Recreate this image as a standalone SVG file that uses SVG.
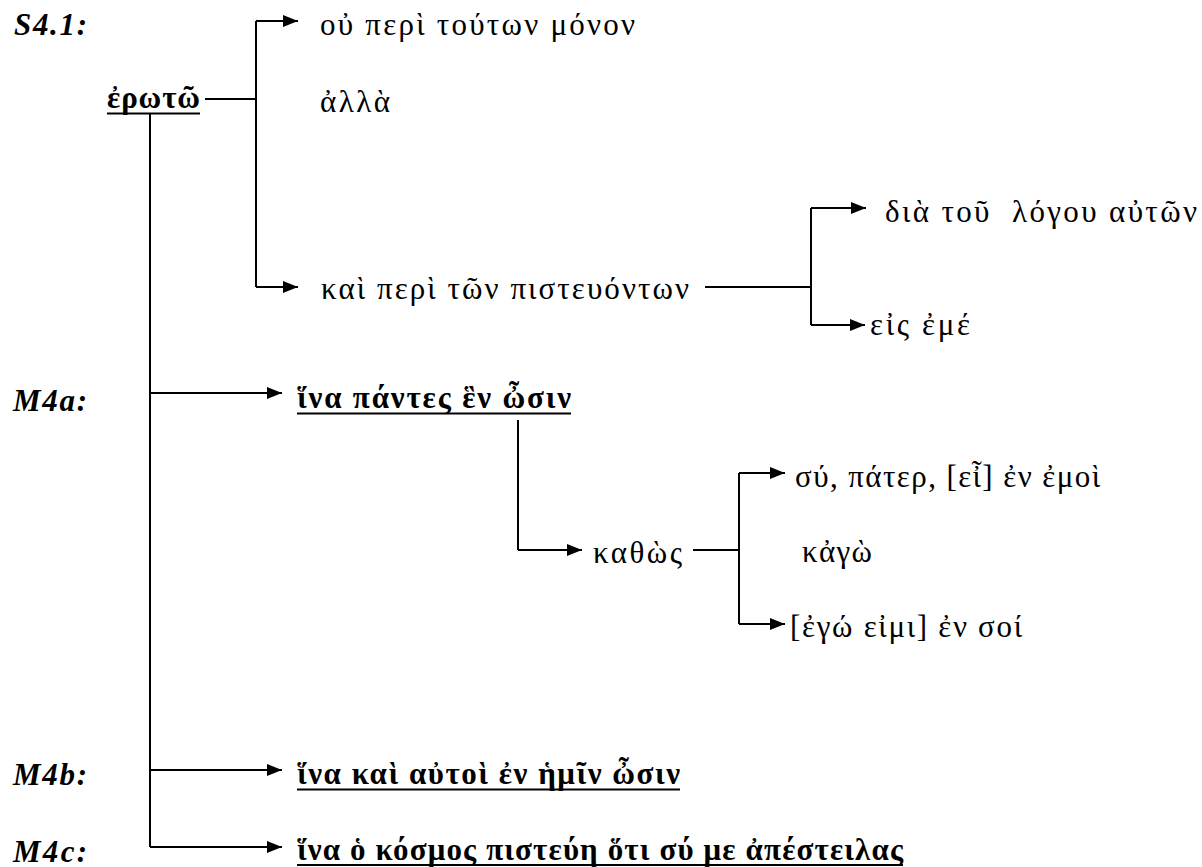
<svg xmlns="http://www.w3.org/2000/svg" width="1202" height="867" viewBox="0 0 1202 867">
  <defs>
    <marker id="arrow" markerUnits="userSpaceOnUse" markerWidth="16" markerHeight="13" refX="15" refY="6" orient="auto">
      <path d="M0,0 L15,6 L0,12 Z" fill="#000"/>
    </marker>
    <style>
      text { font-family: "Liberation Serif", "Times New Roman", "DejaVu Serif", serif; font-size: 31px; fill: #000; white-space: pre; }
      .label { font-weight: bold; font-style: italic; }
      .key { font-weight: bold; }
      .uline { fill: none; stroke: #000; stroke-width: 2; }
      .wire { fill: none; stroke: #000; stroke-width: 2; }
      .arr { marker-end: url(#arrow); }
    </style>
  </defs>
  <rect width="1202" height="867" fill="#fff"/>

  <!-- section labels -->
  <g id="labels">
    <text class="label" x="14" y="35" textLength="73" lengthAdjust="spacing">S4.1:</text>
    <text class="label" x="13" y="411" textLength="74" lengthAdjust="spacing">M4a:</text>
    <text class="label" x="13" y="785" textLength="74" lengthAdjust="spacing">M4b:</text>
    <text class="label" x="13" y="862" textLength="74" lengthAdjust="spacing">M4c:</text>
  </g>

  <!-- connectors -->
  <g id="connectors">
    <path class="wire" d="M205,99 H256"/>
    <path class="wire" d="M256,21 V287"/>
    <path class="wire arr" d="M256,21 H298"/>
    <path class="wire arr" d="M256,287 H298"/>
    <path class="wire" d="M705,287 H811"/>
    <path class="wire" d="M811,208 V325"/>
    <path class="wire arr" d="M811,208 H866"/>
    <path class="wire arr" d="M811,325 H865"/>
    <path class="wire" d="M150,113 V847"/>
    <path class="wire arr" d="M150,393 H282"/>
    <path class="wire arr" d="M150,770 H282"/>
    <path class="wire arr" d="M150,847 H282"/>
    <path class="wire" d="M518,420 V550"/>
    <path class="wire arr" d="M518,550 H582"/>
    <path class="wire" d="M693,550 H739"/>
    <path class="wire" d="M739,473 V624"/>
    <path class="wire arr" d="M739,473 H785"/>
    <path class="wire arr" d="M739,624 H785"/>
  </g>

  <!-- nodes -->
  <g id="erota">
    <text class="key" x="107" y="108" textLength="93" lengthAdjust="spacing">ἐρωτῶ</text>
    <path class="uline" d="M107,113.5 H200"/>
  </g>
  <g id="ou-peri"><text x="320" y="35" textLength="315" lengthAdjust="spacing">οὐ περὶ τούτων μόνον</text></g>
  <g id="alla"><text x="320" y="112" textLength="70" lengthAdjust="spacing">ἀλλὰ</text></g>
  <g id="kai-peri"><text x="321" y="299" textLength="368" lengthAdjust="spacing">καὶ περὶ τῶν πιστευόντων</text></g>
  <g id="dia"><text x="885" y="222" textLength="312" lengthAdjust="spacing">διὰ τοῦ  λόγου αὐτῶν</text></g>
  <g id="eis-eme"><text x="870" y="335" textLength="100" lengthAdjust="spacing">εἰς ἐμέ</text></g>
  <g id="hina-1">
    <text class="key" x="297" y="408" textLength="274" lengthAdjust="spacing">ἵνα πάντες ἓν ὦσιν</text>
    <path class="uline" d="M297,413.5 H571"/>
  </g>
  <g id="kathos"><text x="593" y="563" textLength="89" lengthAdjust="spacing">καθὼς</text></g>
  <g id="su-pater"><text x="795" y="487" textLength="305" lengthAdjust="spacing">σύ, πάτερ, [εἶ] ἐν ἐμοὶ</text></g>
  <g id="kago"><text x="802" y="562" textLength="70" lengthAdjust="spacing">κἀγὼ</text></g>
  <g id="ego-eimi"><text x="790" y="637" textLength="232" lengthAdjust="spacing">[ἐγώ εἰμι] ἐν σοί</text></g>
  <g id="hina-2">
    <text class="key" x="297" y="784" textLength="383" lengthAdjust="spacing">ἵνα καὶ αὐτοὶ ἐν ἡμῖν ὦσιν</text>
    <path class="uline" d="M297,789.5 H680"/>
  </g>
  <g id="hina-3">
    <text class="key" x="297" y="860" textLength="606" lengthAdjust="spacing">ἵνα ὁ κόσμος πιστεύη ὅτι σύ με ἀπέστειλας</text>
    <path class="uline" d="M297,865 H903"/>
  </g>
</svg>
